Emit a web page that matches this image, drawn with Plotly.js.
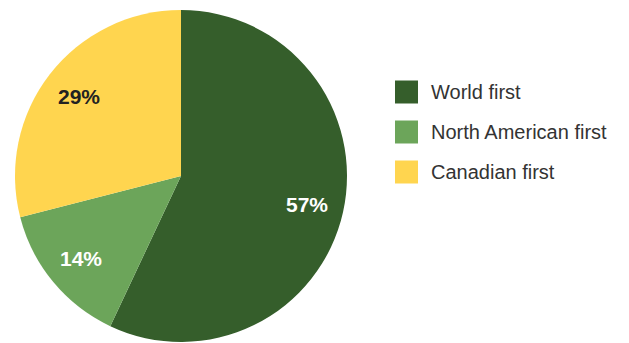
<!DOCTYPE html>
<html>
<head>
<meta charset="utf-8">
<script src="https://cdn.plot.ly/plotly-3.0.1.min.js"></script>
<style>html,body{margin:0;padding:0;background:#fff;}#chart{width:629px;height:343px;}</style>
</head>
<body>
<div id="chart"></div>
<script>
var categories = ["World first", "North American first", "Canadian first"];
var values = [57, 14, 29];
var colors = ["#355E2B", "#6CA55A", "#FFD54F"];
var textColors = ["#ffffff", "#ffffff", "#222222"];

var W = 629, H = 343;
var cx = 181, cy0 = 176, R = 166;
var trace = {
  type: "pie",
  labels: categories,
  values: values,
  sort: false,
  direction: "clockwise",
  rotation: 0,
  marker: { colors: colors, line: { width: 0 } },
  textinfo: "none",
  hoverinfo: "none",
  showlegend: false,
  domain: { x: [(cx - R) / W, (cx + R) / W], y: [1 - (cy0 + R) / H, 1 - (cy0 - R) / H] }
};

var shapes = [], annotations = [];
var total = values.reduce(function (a, b) { return a + b; }, 0);
var cum = 0;
values.forEach(function (v, i) {
  var mid = (cum + v / 2) / total * 2 * Math.PI;
  cum += v;
  var r = 0.78 * R;
  var px = cx + r * Math.sin(mid), py = cy0 - r * Math.cos(mid);
  annotations.push({ xref: "paper", yref: "paper", x: px / W, y: 1 - py / H,
    xanchor: "center", yanchor: "middle", showarrow: false,
    text: Math.round(v / total * 100) + "%",
    font: { family: "Liberation Sans, Arial, sans-serif", size: 21, weight: 700, color: textColors[i] } });
});

var lx0 = 395, sz = 23, ty0 = 92, gap = 40;
categories.forEach(function (c, i) {
  var cy = ty0 + i * gap;
  shapes.push({ type: "rect", xref: "paper", yref: "paper",
    x0: lx0 / W, x1: (lx0 + sz) / W, y0: 1 - (cy + sz / 2) / H, y1: 1 - (cy - sz / 2) / H,
    fillcolor: colors[i], line: { width: 0 } });
  annotations.push({ xref: "paper", yref: "paper", x: 429 / W, y: 1 - cy / H,
    xanchor: "left", yanchor: "middle", showarrow: false, text: c,
    font: { family: "Liberation Sans, Arial, sans-serif", size: 20, color: "#333333" } });
});

var layout = {
  width: W, height: H,
  margin: { l: 0, r: 0, t: 0, b: 0 },
  paper_bgcolor: "#ffffff",
  showlegend: false,
  shapes: shapes,
  annotations: annotations
};
Plotly.newPlot("chart", [trace], layout, { displayModeBar: false, staticPlot: true });
</script>
</body>
</html>
